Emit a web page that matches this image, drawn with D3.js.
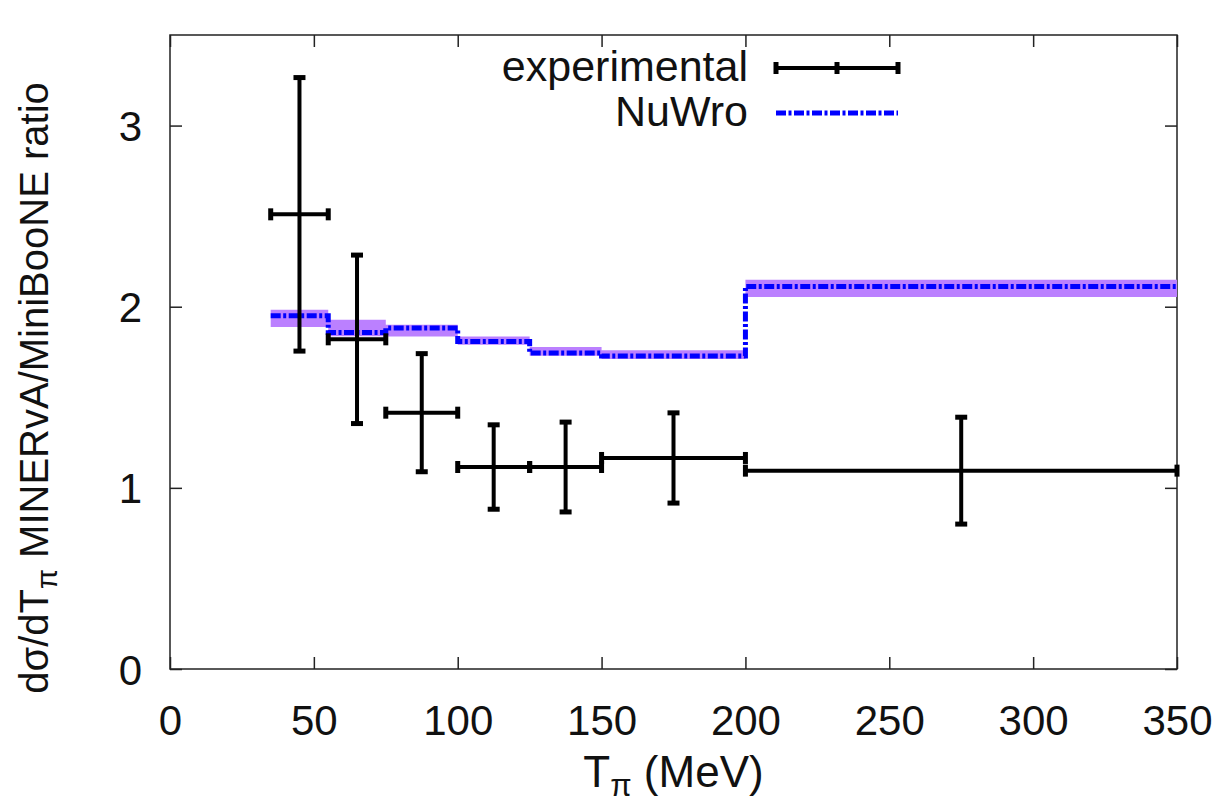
<!DOCTYPE html>
<html>
<head>
<meta charset="utf-8">
<script src="https://cdn.jsdelivr.net/npm/d3@7"></script>
<style>
  html, body { margin: 0; padding: 0; background: #fff; }
  svg { display: block; }
  text { font-family: "Liberation Sans", Arial, sans-serif; fill: #111; }
</style>
</head>
<body>
<svg id="chart" width="1224" height="807"></svg>
<script>
// ---- data ----
// Experimental ratio: bin edges, central values and symmetric errors
const expLo    = [35, 55, 75, 100, 125, 150, 200];
const expHi    = [55, 75, 100, 125, 150, 200, 350];
const expValue = [2.51, 1.82, 1.415, 1.115, 1.115, 1.165, 1.095];
const expError = [0.755, 0.465, 0.326, 0.233, 0.248, 0.249, 0.295];

// NuWro prediction per bin (step histogram) and its spread
const nuwroEdges = [35, 55, 75, 100, 125, 150, 200, 350];
const nuwroValue = [1.950, 1.858, 1.882, 1.808, 1.744, 1.728, 2.112];
const nuwroUpper = [1.983, 1.928, 1.901, 1.836, 1.777, 1.759, 2.149];
const nuwroLower = [1.888, 1.837, 1.836, 1.790, 1.729, 1.711, 2.054];

const xTicks = [0, 50, 100, 150, 200, 250, 300, 350];
const yTicks = [0, 1, 2, 3];
const legendLabels = ["experimental", "NuWro"];

// ---- layout ----
const svg = d3.select("#chart");
const plotLeft = 170, plotRight = 1177, plotTop = 35, plotBottom = 669;

const x = d3.scaleLinear().domain([0, 350]).range([plotLeft, plotRight]);
const y = d3.scaleLinear().domain([0, 3.5]).range([plotBottom, plotTop]);

const tickFont = 42;

// ---- axes (inward ticks, mirrored on top and right) ----
function styleAxis(g) {
  g.select(".domain").remove();
  g.selectAll(".tick line").attr("stroke", "#222").attr("stroke-width", 1.5);
  g.selectAll(".tick text").attr("font-size", tickFont).attr("fill", "#111")
    .attr("font-family", "Liberation Sans, Arial, sans-serif");
}

svg.append("g")
  .attr("transform", `translate(0,${plotBottom})`)
  .call(d3.axisBottom(x).tickValues(xTicks).tickFormat(d3.format("d"))
    .tickSizeInner(-12).tickSizeOuter(0).tickPadding(36))
  .call(styleAxis);

svg.append("g")
  .attr("transform", `translate(0,${plotTop})`)
  .call(d3.axisTop(x).tickValues(xTicks).tickSizeInner(-12).tickSizeOuter(0).tickFormat(""))
  .call(styleAxis);

svg.append("g")
  .attr("transform", `translate(${plotLeft},0)`)
  .call(d3.axisLeft(y).tickValues(yTicks).tickFormat(d3.format("d"))
    .tickSizeInner(-12).tickSizeOuter(0).tickPadding(28))
  .call(styleAxis)
  .call(g => g.selectAll(".tick text").attr("dy", "0.36em"));

svg.append("g")
  .attr("transform", `translate(${plotRight},0)`)
  .call(d3.axisRight(y).tickValues(yTicks).tickSizeInner(-12).tickSizeOuter(0).tickFormat(""))
  .call(styleAxis);

// frame
svg.append("rect")
  .attr("x", plotLeft).attr("y", plotTop)
  .attr("width", plotRight - plotLeft).attr("height", plotBottom - plotTop)
  .attr("fill", "none").attr("stroke", "#222").attr("stroke-width", 1.5);

// ---- NuWro band and step line ----
const stepPts = nuwroEdges.map((e, i) => ({
  x: e,
  v: nuwroValue[Math.min(i, nuwroValue.length - 1)],
  lo: nuwroLower[Math.min(i, nuwroLower.length - 1)],
  hi: nuwroUpper[Math.min(i, nuwroUpper.length - 1)]
}));

svg.append("path")
  .datum(stepPts)
  .attr("fill", "#bb80ff")
  .attr("d", d3.area().curve(d3.curveStepAfter)
    .x(d => x(d.x)).y0(d => y(d.lo)).y1(d => y(d.hi)));

svg.append("path")
  .datum(stepPts)
  .attr("fill", "none")
  .attr("stroke", "#0000ff")
  .attr("stroke-width", 5)
  .attr("stroke-dasharray", "10,2.5,3,2.5")
  .attr("d", d3.line().curve(d3.curveStepAfter).x(d => x(d.x)).y(d => y(d.v)));

// ---- experimental points with error bars ----
const expData = expValue.map((v, i) => ({
  lo: expLo[i], hi: expHi[i], v, e: expError[i], c: (expLo[i] + expHi[i]) / 2
}));

const capHalf = 6;
const eg = svg.append("g").attr("stroke", "#000");
expData.forEach(d => {
  // horizontal bin width
  eg.append("line")
    .attr("x1", x(d.lo)).attr("x2", x(d.hi))
    .attr("y1", y(d.v)).attr("y2", y(d.v))
    .attr("stroke-width", 4);
  [d.lo, d.hi].forEach(t => {
    eg.append("line")
      .attr("x1", x(t)).attr("x2", x(t))
      .attr("y1", y(d.v) - capHalf).attr("y2", y(d.v) + capHalf)
      .attr("stroke-width", 5);
  });
  // vertical error
  eg.append("line")
    .attr("x1", x(d.c)).attr("x2", x(d.c))
    .attr("y1", y(d.v - d.e)).attr("y2", y(d.v + d.e))
    .attr("stroke-width", 4);
  [d.v - d.e, d.v + d.e].forEach(t => {
    eg.append("line")
      .attr("x1", x(d.c) - capHalf).attr("x2", x(d.c) + capHalf)
      .attr("y1", y(t)).attr("y2", y(t))
      .attr("stroke-width", 5);
  });
});

// ---- legend ----
const leg = svg.append("g");
leg.append("text").attr("x", 748).attr("y", 81).attr("text-anchor", "end")
  .attr("font-size", 43).text(legendLabels[0]);
leg.append("text").attr("x", 748).attr("y", 126).attr("text-anchor", "end")
  .attr("font-size", 43).text(legendLabels[1]);

const lx1 = 776, lx2 = 898, ly1 = 68, ly2 = 113;
leg.append("line").attr("x1", lx1).attr("x2", lx2).attr("y1", ly1).attr("y2", ly1)
  .attr("stroke", "#000").attr("stroke-width", 4);
[lx1, (lx1 + lx2) / 2, lx2].forEach(t => {
  leg.append("line").attr("x1", t).attr("x2", t)
    .attr("y1", ly1 - capHalf).attr("y2", ly1 + capHalf)
    .attr("stroke", "#000").attr("stroke-width", 5);
});
leg.append("line").attr("x1", lx1).attr("x2", lx2).attr("y1", ly2).attr("y2", ly2)
  .attr("stroke", "#0000ff").attr("stroke-width", 5)
  .attr("stroke-dasharray", "10,2.5,3,2.5");

// ---- axis titles ----
const xt = svg.append("text")
  .attr("x", (plotLeft + plotRight) / 2).attr("y", 787)
  .attr("text-anchor", "middle").attr("font-size", 44);
xt.append("tspan").text("T");
xt.append("tspan").attr("font-size", 31).attr("dy", 9).text("π");
xt.append("tspan").attr("dy", -9).text(" (MeV)");

const yt = svg.append("text")
  .attr("transform", `translate(48,${(plotTop + plotBottom) / 2 + 36}) rotate(-90)`)
  .attr("text-anchor", "middle").attr("font-size", 40);
yt.append("tspan").text("dσ/dT");
yt.append("tspan").attr("font-size", 29).attr("dy", 9).text("π");
yt.append("tspan").attr("dy", -9).text(" MINERvA/MiniBooNE ratio");
</script>
</body>
</html>
